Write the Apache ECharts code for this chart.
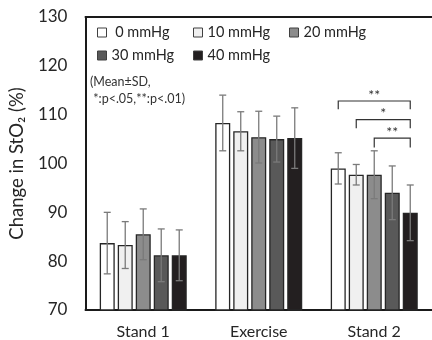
<!DOCTYPE html>
<html><head><meta charset="utf-8">
<script src="https://cdn.jsdelivr.net/npm/echarts@6/dist/echarts.min.js"></script>
<style>html,body{margin:0;padding:0;background:#fff}#c{width:432px;height:340px}</style>
</head><body><div id="c"></div>
<script>
// ---- data ----
const categories = ['Stand 1', 'Exercise', 'Stand 2'];
const seriesNames = ['0 mmHg', '10 mmHg', '20 mmHg', '30 mmHg', '40 mmHg'];
const mean0 = [83.7, 108.3, 99.0];
const mean10 = [83.3, 106.6, 97.7];
const mean20 = [85.5, 105.4, 97.7];
const mean30 = [81.2, 105.0, 94.0];
const mean40 = [81.2, 105.2, 89.9];
const sd0 = [6.3, 5.7, 3.2];
const sd10 = [4.8, 4.0, 2.1];
const sd20 = [5.2, 5.3, 4.9];
const sd30 = [5.4, 4.7, 5.5];
const sd40 = [5.2, 6.2, 5.7];
const yMin = 70, yMax = 130, yStep = 10;
const bracketCategory = 2;
const bracketFrom = [0, 1, 2];
const bracketTo = [4, 4, 4];
const bracketTop = [112.8, 109.0, 105.2];
const bracketBottom = [111.1, 107.2, 103.3];
const bracketLabels = ['**', '*', '**'];
const noteText = '(Mean\u00B1SD,\n *:p<.05,**:p<.01)';

// ---- styles ----
const means = [mean0, mean10, mean20, mean30, mean40];
const sds = [sd0, sd10, sd20, sd30, sd40];
const colors = ['#ffffff', '#f0f0f0', '#8c8c8c', '#595959', '#231f20'];
const FONT = 'Lato, "Noto Sans", "DejaVu Sans", sans-serif';
const BAR_W = 15, GAP = 0.2, N = seriesNames.length;
const SPACING = BAR_W * (1 + GAP);

const errData = [];
means.forEach((m, s) => m.forEach((v, c) => errData.push([c, s, v - sds[s][c], v + sds[s][c]])));
const brData = bracketFrom.map((f, i) => [bracketCategory, f, bracketTo[i], bracketTop[i], bracketBottom[i], i]);

const chart = echarts.init(document.getElementById('c'));
const legendPos = [[97, 25], [193, 25], [289, 25], [97, 48], [193, 48]];

const option = {
  animation: false,
  backgroundColor: '#fff',
  textStyle: { fontFamily: FONT },
  grid: { left: 82, right: 0, top: 17, bottom: 30, containLabel: false },
  title: {
    text: noteText, left: 90, top: 73, padding: 0,
    textStyle: { fontSize: 12.5, fontWeight: 'normal', color: '#333', lineHeight: 17, fontFamily: FONT }
  },
  legend: seriesNames.map((n, i) => ({
    data: [n], left: legendPos[i][0], top: legendPos[i][1], padding: 0,
    icon: 'rect', itemWidth: 9, itemHeight: 9, itemGap: 0,
    itemStyle: { borderColor: '#404040', borderWidth: 1 },
    formatter: name => (name === '0 mmHg' ? ' ' + name : name),
    textStyle: { fontSize: 14.5, color: '#262626', fontFamily: FONT }
  })),
  xAxis: [{
    type: 'category', data: categories,
    axisLine: { lineStyle: { color: '#1a1a1a', width: 2 } },
    axisTick: { show: false },
    axisLabel: { fontSize: 16, color: '#262626', margin: 14, fontFamily: FONT }
  }, {
    type: 'category', data: categories, position: 'top',
    axisLine: { lineStyle: { color: '#1a1a1a', width: 2 } },
    axisTick: { show: false }, axisLabel: { show: false }
  }],
  yAxis: {
    type: 'value', min: yMin, max: yMax, interval: yStep,
    name: 'Change in StO\u2082 (%)', nameLocation: 'middle', nameGap: 48,
    nameTextStyle: { fontSize: 18.5, color: '#262626', fontFamily: FONT },
    axisLine: { show: true, lineStyle: { color: '#1a1a1a', width: 2 } },
    axisTick: { show: false }, splitLine: { show: false },
    axisLabel: { fontSize: 17, color: '#262626', margin: 18, fontFamily: FONT }
  },
  series: [
    ...seriesNames.map((n, s) => ({
      name: n, type: 'bar', data: means[s], barWidth: BAR_W, barGap: (GAP * 100) + '%',
      itemStyle: { color: colors[s], borderColor: '#262626', borderWidth: 1.3 }
    })),
    {
      type: 'custom', name: 'err', data: errData, z: 10,
      encode: { x: 0, y: [2, 3] },
      renderItem: (params, api) => {
        const c = api.value(0), s = api.value(1);
        const lo = api.coord([c, api.value(2)]);
        const hi = api.coord([c, api.value(3)]);
        const x = lo[0] + (s - (N - 1) / 2) * SPACING;
        const cap = 3.5;
        const st = { stroke: '#7a7a7a', lineWidth: 1.3 };
        return { type: 'group', children: [
          { type: 'line', shape: { x1: x, y1: hi[1], x2: x, y2: lo[1] }, style: st },
          { type: 'line', shape: { x1: x - cap, y1: hi[1], x2: x + cap, y2: hi[1] }, style: st },
          { type: 'line', shape: { x1: x - cap, y1: lo[1], x2: x + cap, y2: lo[1] }, style: st }
        ] };
      }
    },
    {
      type: 'custom', name: 'sig', data: brData, z: 10,
      encode: { x: 0, y: [3, 4] },
      renderItem: (params, api) => {
        const c = api.value(0), f = api.value(1), t = api.value(2);
        const top = api.coord([c, api.value(3)]);
        const bot = api.coord([c, api.value(4)]);
        const x1 = top[0] + (f - (N - 1) / 2) * SPACING;
        const x2 = top[0] + (t - (N - 1) / 2) * SPACING;
        const label = bracketLabels[api.value(5)];
        return { type: 'group', children: [
          { type: 'polyline', shape: { points: [[x1, bot[1]], [x1, top[1]], [x2, top[1]], [x2, bot[1]]] },
            style: { stroke: '#333', lineWidth: 1.2, fill: null } },
          { type: 'text', x: (x1 + x2) / 2, y: top[1] + 1,
            style: { text: label, fill: '#333', fontSize: 14, fontFamily: FONT, align: 'center', verticalAlign: 'bottom' } }
        ] };
      }
    }
  ]
};
chart.setOption(option);
</script></body></html>
